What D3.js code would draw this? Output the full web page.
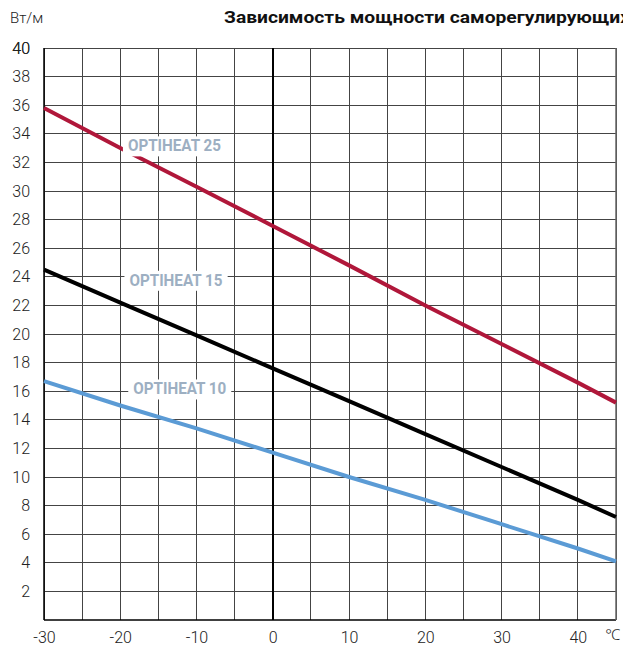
<!DOCTYPE html>
<html lang="ru">
<head>
<meta charset="UTF-8">
<title>Зависимость мощности саморегулирующих кабелей</title>
<script src="https://d3js.org/d3.v7.min.js"></script>
<style>
  body { margin: 0; background: #fff; }
  svg { display: block; font-family: Roboto, "Noto Sans", sans-serif; }
</style>
</head>
<body>
<div id="chart"></div>
<script>
// данные
const temps = [-30, -20, -10, 0, 10, 20, 30, 40, 45];
const optiheat25 = [35.8, 33.0, 30.3, 27.55, 24.8, 22.0, 19.3, 16.6, 15.2];
const optiheat15 = [24.5, 22.2, 19.9, 17.6, 15.3, 13.0, 10.7, 8.4, 7.2];
const optiheat10 = [16.7, 15.0, 13.4, 11.7, 10.0, 8.4, 6.7, 5.0, 4.1];

const seriesNames = ["OPTIHEAT 25", "OPTIHEAT 15", "OPTIHEAT 10"];
const seriesColors = ["#b0173a", "#000000", "#5b9bd5"];
// где подписи стоят на графике (в единицах данных)
const labelX = [-12.9, -12.7, -12.2];
const labelY = [33.2, 23.8, 16.2];

const yTicks = d3.range(2, 41, 2);
const xTicks = [-30, -20, -10, 0, 10, 20, 30, 40];
const xGrid = d3.range(-30, 46, 5);

const W = 623, H = 646;
const margin = { top: 48, right: 7, bottom: 26, left: 44 };

const svg = d3.select("#chart").append("svg")
  .attr("width", W)
  .attr("height", H);

const x = d3.scaleLinear().domain([-30, 45]).range([margin.left, W - margin.right]);
const y = d3.scaleLinear().domain([0, 40]).range([H - margin.bottom, margin.top]);

// сетка
svg.append("g")
  .selectAll("line.h")
  .data(yTicks.concat([40]))
  .enter().append("line")
  .attr("x1", x(-30)).attr("x2", x(45))
  .attr("y1", d => y(d)).attr("y2", d => y(d))
  .attr("stroke", "#444")
  .attr("shape-rendering", "crispEdges");

svg.append("g")
  .selectAll("line.v")
  .data(xGrid)
  .enter().append("line")
  .attr("x1", d => x(d)).attr("x2", d => x(d))
  .attr("y1", y(40)).attr("y2", y(0))
  .attr("stroke", d => d === 0 ? "#000" : "#444")
  .attr("stroke-width", d => d === 0 ? 2 : 1)
  .attr("shape-rendering", "crispEdges");

// рамка
svg.append("line")
  .attr("x1", x(-30)).attr("x2", x(45)).attr("y1", y(0)).attr("y2", y(0))
  .attr("stroke", "#000").attr("stroke-width", 1.5);
svg.append("line")
  .attr("x1", x(-30)).attr("x2", x(-30)).attr("y1", y(40)).attr("y2", y(0))
  .attr("stroke", "#000").attr("stroke-width", 1.5);
svg.append("line")
  .attr("x1", x(45)).attr("x2", x(45)).attr("y1", y(40)).attr("y2", y(0))
  .attr("stroke", "#666").attr("stroke-width", 1.5);

// оси
const yAxis = svg.append("g")
  .attr("transform", `translate(${x(-30)},0)`)
  .call(d3.axisLeft(y).tickValues(yTicks.concat([40])).tickSize(0).tickPadding(14));
yAxis.select(".domain").remove();
yAxis.selectAll("text")
  .attr("font-size", 16)
  .attr("font-family", "Roboto, sans-serif")
  .attr("font-weight", 300)
  .attr("fill", "#222");

const xAxis = svg.append("g")
  .attr("transform", `translate(0,${y(0)})`)
  .call(d3.axisBottom(x).tickValues(xTicks).tickSize(0).tickPadding(12).tickFormat(d => String(d)));
xAxis.select(".domain").remove();
xAxis.selectAll("text")
  .attr("font-size", 16)
  .attr("font-family", "Roboto, sans-serif")
  .attr("font-weight", 300)
  .attr("fill", "#222");

svg.append("text")
  .attr("x", W - 3)
  .attr("y", H - 6)
  .attr("text-anchor", "end")
  .attr("font-size", 15)
  .attr("font-weight", 300)
  .attr("fill", "#222")
  .text("℃");

// линии
const allSeries = [optiheat25, optiheat15, optiheat10];
const line = d3.line()
  .x((d, i) => x(temps[i]))
  .y(d => y(d));

svg.append("g")
  .selectAll("path")
  .data(allSeries)
  .enter().append("path")
  .attr("d", d => line(d))
  .attr("fill", "none")
  .attr("stroke", (d, i) => seriesColors[i])
  .attr("stroke-width", 4);

// подписи серий
seriesNames.forEach((name, i) => {
  const g = svg.append("g");
  const t = g.append("text")
    .attr("x", x(labelX[i]))
    .attr("y", y(labelY[i]))
    .attr("dy", "0.36em")
    .attr("text-anchor", "middle")
    .attr("font-size", 17)
    .attr("font-weight", "bold")
    .attr("fill", "#9dafc2")
    .attr("textLength", 93)
    .attr("lengthAdjust", "spacingAndGlyphs")
    .text(name);
  const bb = t.node().getBBox();
  g.insert("rect", "text")
    .attr("x", bb.x - 5)
    .attr("y", bb.y + 1)
    .attr("width", bb.width + 10)
    .attr("height", bb.height)
    .attr("fill", "#fff");
});

// заголовки
svg.append("text")
  .attr("x", 10)
  .attr("y", 23)
  .attr("font-size", 15)
  .attr("font-weight", 300)
  .attr("fill", "#222")
  .text("Вт/м");

svg.append("text")
  .attr("x", 224)
  .attr("y", 23)
  .attr("font-size", 17)
  .attr("font-weight", "bold")
  .attr("fill", "#111")
  .attr("textLength", 406)
  .attr("lengthAdjust", "spacingAndGlyphs")
  .text("Зависимость мощности саморегулирующих");
</script>
</body>
</html>
